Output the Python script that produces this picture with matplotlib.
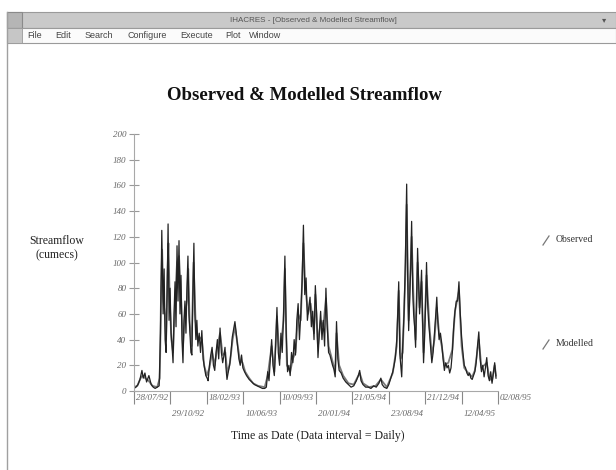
import numpy as np
import matplotlib
matplotlib.use("Agg")
import matplotlib.pyplot as plt
from matplotlib.lines import Line2D
from matplotlib.patches import Rectangle
import matplotlib.transforms as mtransforms

# ---- datos (dias desde 28/07/92, caudal en cumecs) ----
obs_dias = [0, 6, 12, 18, 24, 28, 33, 38, 45, 52, 58, 64, 70, 76, 80, 84, 88, 91, 94, 97,
            100, 103, 106, 109, 112, 115, 118, 121, 124, 127, 130, 133, 136, 139, 142, 145, 148,
            151, 154, 157, 160, 163, 166, 169, 172, 175, 178, 181, 184, 187, 190, 193, 197, 201,
            205, 209, 213, 217, 221, 224, 228, 232, 236, 240, 244, 248, 252, 256, 260, 264, 268,
            272, 275, 278, 281, 285, 289, 293, 297, 301, 305, 309, 313, 317, 321, 325, 329, 334,
            340, 348, 356, 364, 372, 380, 388, 395,
            400, 404, 408, 412, 416, 420, 424, 428, 432, 436, 440, 444, 448, 452, 456, 460, 464,
            468, 472, 476, 480, 484, 488, 492, 496, 500, 504, 508, 512, 516, 520, 524, 528, 532,
            536, 540, 544, 548, 552, 556, 560, 564, 568, 572, 576, 580, 584, 588, 592, 596, 600,
            604, 608, 612, 616, 620, 626, 632, 640, 648, 656, 664, 672, 678, 682, 686, 692, 700,
            708, 716, 724, 732, 740, 746, 750, 756, 764, 770, 776, 782, 786, 790, 794, 797, 800,
            803, 806, 809, 812, 816, 820, 824, 827, 830, 833, 836, 839, 842, 845, 848, 851, 854,
            857, 860, 863, 866, 869, 872, 875, 878, 881, 884, 887, 890, 893, 896, 900, 904, 908,
            912, 915, 918, 922, 926, 930, 934, 938, 942, 946, 950, 954, 958, 962, 966, 970, 974,
            978, 982, 986, 990, 994, 998, 1002, 1006, 1010, 1014, 1018, 1022, 1026, 1030, 1034,
            1038, 1042, 1046, 1050, 1054, 1058, 1062, 1066, 1070, 1074, 1078, 1082, 1086, 1090, 1094]
obs_caudal = [2, 3, 5, 9, 16, 10, 14, 7, 12, 5, 3, 2, 3, 4, 45, 125, 60, 95, 40, 30,
              75, 130, 55, 80, 45, 35, 22, 60, 85, 50, 113, 70, 117, 60, 90, 40, 22,
              55, 70, 45, 80, 105, 60, 45, 30, 28, 75, 115, 60, 40, 55, 35, 45, 30,
              47, 25, 18, 12, 10, 8, 20, 28, 34, 20, 16, 30, 40, 25, 49, 30, 22,
              28, 34, 18, 9, 15, 20, 30, 42, 48, 54, 45, 35, 25, 20, 28, 18, 15,
              12, 9, 7, 5, 4, 3, 2, 2,
              3, 15, 8, 25, 40, 20, 12, 35, 65, 30, 20, 45, 30, 60, 105, 45, 15,
              20, 12, 30, 22, 40, 28, 55, 68, 40, 60, 85, 129, 75, 88, 55, 65, 73,
              50, 62, 40, 82, 60, 26, 45, 62, 40, 55, 35, 80, 50, 30, 28, 24, 20,
              17, 11, 54, 25, 16, 14, 10, 7, 5, 3, 4, 8, 12, 16, 8, 5, 3,
              3, 2, 4, 3, 6, 10, 5, 3, 2, 5, 10, 15, 20, 26, 40, 60, 85,
              30, 20, 11, 35, 60, 100, 161, 90, 47, 70, 95, 132, 80, 60, 50, 34, 70,
              111, 85, 60, 75, 94, 55, 22, 40, 65, 100, 70, 55, 45, 35, 22, 30, 45,
              60, 73, 55, 40, 45, 37, 25, 16, 22, 18, 20, 14, 18, 30, 50, 62, 70,
              70, 85, 60, 42, 30, 20, 18, 14, 12, 14, 10, 9, 12, 15, 22,
              35, 46, 25, 15, 20, 11, 18, 26, 12, 8, 15, 6, 14, 22, 10]

mod_dias = [0, 10, 20, 26, 34, 44, 56, 70, 78, 82, 85, 89, 93, 97, 101, 104, 108, 113, 118,
            124, 130, 136, 142, 148, 154, 160, 164, 168, 174, 180, 186, 192, 198, 205, 212,
            220, 228, 236, 244, 252, 260, 268, 276, 282, 290, 298, 305, 312, 320, 328, 336,
            348, 360, 375, 395, 404, 416, 424, 432, 440, 452, 456, 462, 472, 480, 488, 496,
            504, 512, 518, 526, 534, 544, 548, 556, 564, 572, 580, 588, 598, 608, 612, 620,
            632, 648, 664, 682, 692, 710, 730, 746, 764, 782, 794, 800, 806, 812, 820, 824,
            830, 839, 845, 851, 857, 863, 869, 875, 884, 893, 900, 908, 915, 922, 930, 938,
            950, 962, 970, 982, 990, 998, 1010, 1022, 1030, 1042, 1050, 1066, 1074, 1082,
            1090, 1094]
mod_caudal = [3, 4, 10, 12, 10, 8, 4, 3, 10, 80, 110, 70, 60, 40, 90, 115, 70, 40, 30,
              70, 100, 105, 75, 35, 60, 70, 95, 55, 35, 100, 55, 40, 42, 40, 20,
              12, 18, 30, 20, 35, 45, 28, 30, 14, 22, 40, 50, 38, 24, 22, 15,
              10, 6, 4, 3, 12, 35, 15, 58, 25, 55, 95, 20, 15, 25, 30, 60,
              55, 115, 80, 60, 68, 45, 75, 35, 55, 50, 72, 35, 25, 15, 45, 20,
              12, 6, 5, 14, 6, 3, 4, 9, 3, 14, 35, 78, 25, 30, 90, 145,
              55, 120, 70, 40, 100, 65, 85, 30, 90, 50, 28, 40, 65, 45, 35, 20,
              22, 32, 62, 78, 35, 18, 14, 11, 16, 40, 18, 22, 10, 8,
              20, 12]

y_ticks = [0, 20, 40, 60, 80, 100, 120, 140, 160, 180, 200]
fechas = ["28/07/92", "29/10/92", "18/02/93", "10/06/93", "10/09/93", "20/01/94",
          "21/05/94", "23/08/94", "21/12/94", "12/04/95", "02/08/95"]
menu = ["File", "Edit", "Search", "Configure", "Execute", "Plot", "Window"]
menu_x = [27, 55, 85, 128, 180, 225, 249]

W, H = 616, 470
fig = plt.figure(figsize=(W / 100, H / 100), dpi=100)
fig.patch.set_facecolor("white")

def px(x, y):
    return x / W, 1 - y / H

# ---- marco de la ventana ----
fig.add_artist(Rectangle(px(7, 28), 609 / W, 16 / H, transform=fig.transFigure,
                         facecolor="#c9c9c9", edgecolor="#9a9a9a", lw=0.8))
fig.add_artist(Rectangle(px(7, 28), 15 / W, 16 / H, transform=fig.transFigure,
                         facecolor="#b5b5b5", edgecolor="#8a8a8a", lw=0.8))
fig.add_artist(Rectangle(px(7, 43), 609 / W, 15 / H, transform=fig.transFigure,
                         facecolor="#fbfbfb", edgecolor="#9a9a9a", lw=0.8))
fig.add_artist(Rectangle(px(7, 43), 15 / W, 15 / H, transform=fig.transFigure,
                         facecolor="#c6c6c6", edgecolor="#9a9a9a", lw=0.6))
fig.add_artist(Line2D([7 / W, 7 / W], [0, 1 - 12 / H], transform=fig.transFigure,
                      color="#a0a0a0", lw=1.0))
fig.text(*px(313, 20), "IHACRES - [Observed & Modelled Streamflow]", ha="center", va="center",
         fontsize=5.8, color="#555555", family="Liberation Sans")
fig.text(*px(604, 20), "▾", ha="center", va="center", fontsize=6, color="#555555")
for nombre, xm in zip(menu, menu_x):
    fig.text(*px(xm, 36), nombre, ha="left", va="center", fontsize=6.5,
             color="#444444", family="Liberation Sans")

# ---- grafico ----
ax = fig.add_axes([134 / W, 1 - 391 / H, 364 / W, 257 / H])
ax.plot(mod_dias, mod_caudal, color="#7a7a7a", lw=1.3)
ax.plot(obs_dias, obs_caudal, color="#222222", lw=0.9)
ax.set_xlim(0, 1100)
ax.set_ylim(0, 200)
for lado in ["top", "right"]:
    ax.spines[lado].set_visible(False)
ax.spines["left"].set_color("#a8a8a8")
ax.spines["bottom"].set_color("#a8a8a8")

ax.set_yticks(y_ticks)
ax.set_yticklabels([str(v) for v in y_ticks], fontsize=6.5, style="italic",
                   family="Liberation Serif", color="#666666")
ax.tick_params(axis="y", direction="inout", length=7, width=0.8, color="#999999", pad=2)

pos = np.linspace(0, 1100, len(fechas))
ax.set_xticks(pos[::2])
ax.set_xticklabels(fechas[::2], fontsize=6.5, style="italic", family="Liberation Serif",
                   color="#666666", ha="left")
ax.set_xticks(pos[1::2], minor=True)
ax.set_xticklabels(fechas[1::2], minor=True, fontsize=6.5, style="italic",
                   family="Liberation Serif", color="#666666", ha="left")
ax.tick_params(axis="x", which="major", direction="out", length=9, width=0.8,
               color="#888888", pad=-7)
ax.tick_params(axis="x", which="minor", direction="out", length=9, width=0.8,
               color="#888888", pad=5)
desplaza = mtransforms.ScaledTranslation(2 / 100, 0, fig.dpi_scale_trans)
for lab in ax.get_xticklabels(which="both"):
    lab.set_transform(lab.get_transform() + desplaza)

fig.text(*px(304, 96), "Observed & Modelled Streamflow", ha="center", va="center",
         fontsize=13.5, fontweight="bold", family="Liberation Serif", color="#111111")
fig.text(*px(57, 248), "Streamflow\n(cumecs)", ha="center", va="center", fontsize=8.5,
         family="Liberation Serif", color="#222222", linespacing=1.2)
fig.text(*px(318, 436), "Time as Date (Data interval = Daily)", ha="center", va="center",
         fontsize=8.5, family="Liberation Serif", color="#222222")

# ---- leyenda ----
for nombre, yl in [("Observed", 240), ("Modelled", 344)]:
    fig.add_artist(Line2D([543 / W, 549 / W], [1 - (yl + 5) / H, 1 - (yl - 4) / H],
                          transform=fig.transFigure, color="#777777", lw=0.9))
    fig.text(*px(556, yl), nombre, ha="left", va="center", fontsize=7,
             family="Liberation Serif", color="#333333")

fig.savefig("out.png", dpi=100)
